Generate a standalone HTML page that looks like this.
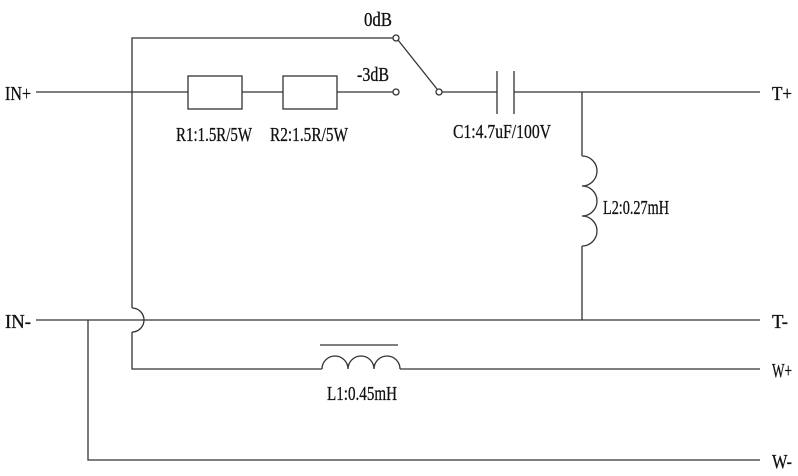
<!DOCTYPE html>
<html><head><meta charset="utf-8"><style>html,body{margin:0;padding:0;background:#fff}svg{display:block}</style></head>
<body>
<svg width="798" height="476" viewBox="0 0 798 476" xmlns="http://www.w3.org/2000/svg">
<g fill="none" stroke="#333" stroke-width="1.3">
<polyline points="132,308 132,38 393,38"/>
<line x1="36" y1="92" x2="188" y2="92"/>
<rect x="188" y="76" width="54" height="33"/>
<line x1="242" y1="92" x2="283" y2="92"/>
<rect x="283" y="76" width="54" height="33"/>
<line x1="337" y1="92" x2="393" y2="92"/>
<circle cx="396" cy="38" r="3"/>
<circle cx="396" cy="92" r="3"/>
<circle cx="439" cy="92" r="3"/>
<line x1="398" y1="40" x2="437" y2="89"/>
<line x1="442" y1="92" x2="497" y2="92"/>
<line x1="497" y1="71" x2="497" y2="114"/>
<line x1="514" y1="71" x2="514" y2="114"/>
<line x1="514" y1="92" x2="760" y2="92"/>
<line x1="582" y1="92" x2="582" y2="156"/>
<path d="M582,156 A15,15 0 0 1 582,186 A15,15 0 0 1 582,216 A15,15 0 0 1 582,246"/>
<line x1="582" y1="246" x2="582" y2="320"/>
<line x1="36" y1="320" x2="760" y2="320"/>
<path d="M132,308 A12,12 0 0 1 132,332"/>
<polyline points="132,332 132,369 322,369"/>
<path d="M322,369 A13,13 0 0 1 348,369 A13,13 0 0 1 374,369 A13,13 0 0 1 400,369"/>
<line x1="320" y1="345" x2="398" y2="345"/>
<line x1="400" y1="369" x2="760" y2="369"/>
<polyline points="88,320 88,460 760,460"/>
</g>
<g font-family="'Liberation Serif',serif" font-size="20" fill="#111" stroke="#111" stroke-width="0.3">
<text x="5" y="100" textLength="26" lengthAdjust="spacingAndGlyphs">IN+</text>
<text x="5" y="328" textLength="26" lengthAdjust="spacingAndGlyphs">IN-</text>
<text x="364" y="26" textLength="28" lengthAdjust="spacingAndGlyphs">0dB</text>
<text x="357" y="81" textLength="32" lengthAdjust="spacingAndGlyphs">-3dB</text>
<text x="176" y="141" textLength="76" lengthAdjust="spacingAndGlyphs">R1:1.5R/5W</text>
<text x="270" y="141" textLength="78" lengthAdjust="spacingAndGlyphs">R2:1.5R/5W</text>
<text x="453" y="138" textLength="98" lengthAdjust="spacingAndGlyphs">C1:4.7uF/100V</text>
<text x="603" y="214" textLength="66" lengthAdjust="spacingAndGlyphs">L2:0.27mH</text>
<text x="327" y="400" textLength="70" lengthAdjust="spacingAndGlyphs">L1:0.45mH</text>
<text x="772" y="100" textLength="20" lengthAdjust="spacingAndGlyphs">T+</text>
<text x="772" y="328" textLength="16" lengthAdjust="spacingAndGlyphs">T-</text>
<text x="772" y="377" textLength="20" lengthAdjust="spacingAndGlyphs">W+</text>
<text x="772" y="468" textLength="20" lengthAdjust="spacingAndGlyphs">W-</text>
</g>
</svg>
</body></html>
